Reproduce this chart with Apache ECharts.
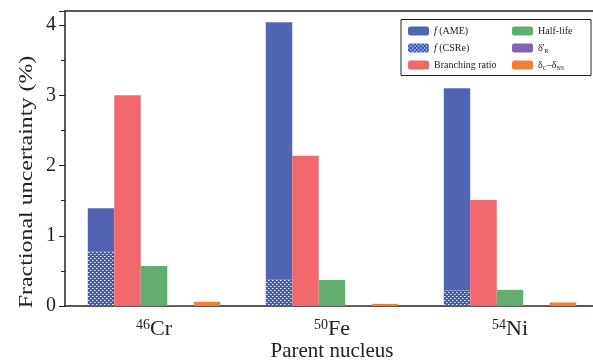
<!DOCTYPE html>
<html><head><meta charset="utf-8">
<script src="https://cdn.jsdelivr.net/npm/echarts@6/dist/echarts.min.js"></script>
<style>html,body{margin:0;padding:0;background:#fff}#c{width:593px;height:361px}</style>
</head><body><div id="c"></div>
<script>
// ---- data ----
var nuclei = ['46', '50', '54'];
var elements = ['Cr', 'Fe', 'Ni'];
var fAME = [1.39, 4.04, 3.10];          // total f(AME) height
var fCSRe = [0.78, 0.38, 0.22];         // hatched portion
var branching = [3.00, 2.14, 1.51];
var halfLife = [0.57, 0.37, 0.23];
var deltaR = [0.01, 0.01, 0.01];
var deltaCNS = [0.06, 0.03, 0.05];
var yTicks = [0, 1, 2, 3, 4];

var categories = nuclei.map(function (n, i) { return n + elements[i]; });
var ameRemainder = fAME.map(function (v, i) { return +(v - fCSRe[i]).toFixed(3); });

var FONT = '"Liberation Serif","DejaVu Serif",serif';
var TXT = '#222';

// hatch pattern
var pc = document.createElement('canvas');
pc.width = 4; pc.height = 4;
var px = pc.getContext('2d');
px.fillStyle = '#3c5bc5'; px.fillRect(0, 0, 4, 4);
px.fillStyle = '#eef2fb';
px.fillRect(0, 0, 1, 1); px.fillRect(2, 2, 1, 1);
px.fillStyle = '#95a9e2';
px.fillRect(1, 0, 1, 1); px.fillRect(3, 2, 1, 1);

var C_AME = '#5265b5', C_BR = '#f0686c', C_HL = '#62ad6f', C_R = '#7f64b1', C_C = '#f57f30';

var chart = echarts.init(document.getElementById('c'), null, { renderer: 'canvas' });

var legendRich = {
  i: { fontFamily: FONT, fontStyle: 'italic', fontSize: 10, color: TXT },
  n: { fontFamily: FONT, fontSize: 10, color: TXT },
  sub: { fontFamily: FONT, fontSize: 6, color: TXT, verticalAlign: 'bottom', padding: [5, 0, 0, 0] }
};
var legendLabels = {
  'f (AME)': '{i|f} {n|(AME)}',
  'f (CSRe)': '{i|f} {n|(CSRe)}',
  'Branching ratio': '{n|Branching ratio}',
  'Half-life': '{n|Half-life}',
  "δ'R": "{n|δ'}{sub|R}",
  'δC–δNS': '{n|δ}{sub|C}{n|–δ}{sub|NS}'
};
function legendCommon(data, left) {
  return {
    data: data, orient: 'vertical', left: left, top: 25,
    itemWidth: 21, itemHeight: 9, itemGap: 5, padding: 0,
    textStyle: { fontFamily: FONT, fontSize: 10, color: TXT, lineHeight: 12, rich: legendRich },
    formatter: function (name) { return legendLabels[name]; },
    selectedMode: false
  };
}

var barW = 26.5;
chart.setOption({
  animation: false,
  backgroundColor: '#fff',
  grid: { left: 65, right: -6, top: 11, bottom: 55, containLabel: false, outerBoundsMode: 'none' },
  xAxis: [{
    type: 'category', data: categories, position: 'bottom',
    axisLine: { lineStyle: { color: '#222', width: 1.5 } },
    axisTick: { show: false },
    axisLabel: {
      margin: 12,
      formatter: function (v, idx) { return '{s|' + nuclei[idx] + '}{e|' + elements[idx] + '}'; },
      rich: {
        s: { fontFamily: FONT, fontSize: 14, color: TXT, verticalAlign: 'top', padding: [0, 0, 8, 0] },
        e: { fontFamily: FONT, fontSize: 22, color: TXT }
      }
    },
    name: 'Parent nucleus', nameLocation: 'middle', nameGap: 35, nameMoveOverlap: false,
    nameTextStyle: { fontFamily: FONT, fontSize: 21, color: TXT }
  }, {
    type: 'category', data: categories, position: 'top',
    axisLine: { lineStyle: { color: '#222', width: 1.5 } },
    axisTick: { show: false }, axisLabel: { show: false }
  }],
  yAxis: {
    type: 'value', min: 0, max: 4.2, interval: 1,
    axisLine: { show: true, lineStyle: { color: '#222', width: 1.5 } },
    axisTick: { show: true, length: 6, lineStyle: { color: '#222' } },
    minorTick: { show: true, splitNumber: 2, length: 4, lineStyle: { color: '#222' } },
    splitLine: { show: false },
    axisLabel: {
      fontFamily: FONT, fontSize: 20, color: TXT, margin: 9,
      formatter: function (v) { return yTicks.indexOf(v) >= 0 ? String(v) : ''; }
    }
  },
  legend: [
    legendCommon(['f (AME)', 'f (CSRe)', 'Branching ratio'], 408),
    legendCommon(['Half-life', "δ'R", 'δC–δNS'], 512)
  ],
  graphic: [
    { type: 'rect', shape: { x: 401, y: 19.5, width: 190, height: 56 }, style: { fill: 'none', stroke: '#222', lineWidth: 1 }, z: 10 },
    { type: 'text', x: 27, y: 182, rotation: Math.PI / 2, scaleX: 1.33, scaleY: 1,
      style: { text: 'Fractional uncertainty (%)', font: '18px ' + FONT, fill: TXT, textAlign: 'center', textVerticalAlign: 'middle' } }
  ],
  series: [
    { name: 'f (CSRe)', type: 'bar', stack: 'ame', data: fCSRe, barWidth: barW, barGap: '0%',
      itemStyle: { color: { image: pc, repeat: 'repeat' } } },
    { name: 'f (AME)', type: 'bar', stack: 'ame', data: ameRemainder, barWidth: barW, barGap: '0%',
      itemStyle: { color: C_AME } },
    { name: 'Branching ratio', type: 'bar', data: branching, barWidth: barW, barGap: '0%', itemStyle: { color: C_BR } },
    { name: 'Half-life', type: 'bar', data: halfLife, barWidth: barW, barGap: '0%', itemStyle: { color: C_HL } },
    { name: "δ'R", type: 'bar', data: deltaR, barWidth: barW, barGap: '0%', itemStyle: { color: C_R } },
    { name: 'δC–δNS', type: 'bar', data: deltaCNS, barWidth: barW, barGap: '0%', itemStyle: { color: C_C } }
  ]
});
</script></body></html>
